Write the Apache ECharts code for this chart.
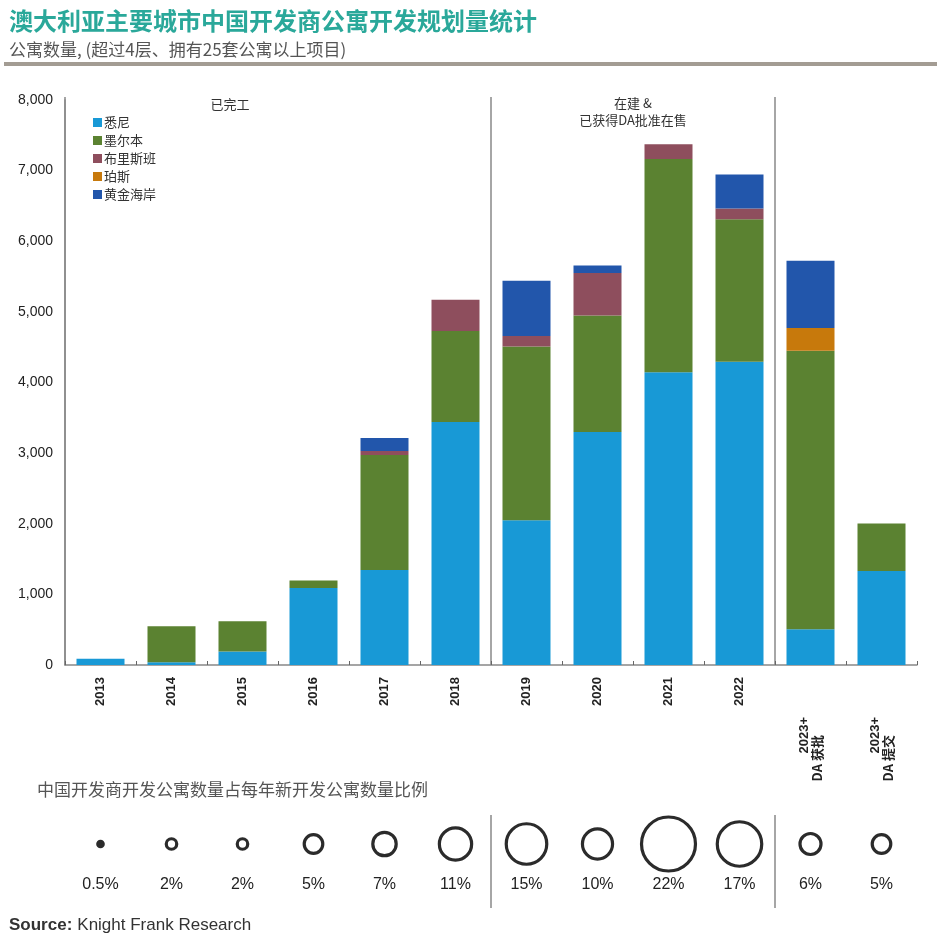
<!DOCTYPE html>
<html>
<head>
<meta charset="utf-8">
<script src="https://cdn.jsdelivr.net/npm/echarts@6/dist/echarts.min.js"></script>
<style>
html,body{margin:0;padding:0;background:#fff;}
#chart{width:941px;height:941px;}
</style>
</head>
<body>
<div id="chart"></div>
<script>
// ---------- data ----------
var categories = ['2013','2014','2015','2016','2017','2018','2019','2020','2021','2022','2023+\nDA 获批','2023+\nDA 提交'];
var sydney    = [90, 40, 190, 1090, 1345, 3440, 2050, 3300, 4145, 4295, 505, 1330];
var melbourne = [0, 510, 430, 105, 1630, 1290, 2460, 1650, 3020, 2015, 3945, 675];
var brisbane  = [0, 0, 0, 0, 55, 440, 150, 600, 210, 155, 0, 0];
var perth     = [0, 0, 0, 0, 0, 0, 0, 0, 0, 0, 320, 0];
var goldCoast = [0, 0, 0, 0, 185, 0, 780, 105, 0, 480, 955, 0];
var sharePct  = [0.5, 2, 2, 5, 7, 11, 15, 10, 22, 17, 6, 5];
var yTicks    = [0, 1000, 2000, 3000, 4000, 5000, 6000, 7000, 8000];
var seriesNames = ['悉尼','墨尔本','布里斯班','珀斯','黄金海岸'];

var colors = ['#1899d6', '#5b8231', '#8e4e5d', '#c7790c', '#2256ab'];
var CJK = '"Noto Sans CJK SC", "Noto Sans", sans-serif';
var SANS = '"Liberation Sans", Arial, sans-serif';
var NARROW = '"Liberation Sans Narrow", "Liberation Sans", Arial, sans-serif';

var chart = echarts.init(document.getElementById('chart'), null, {renderer: 'canvas'});

function circleSize(p) { return 3 + 4.3 * Math.pow(p, 0.8); }

var barSeries = [sydney, melbourne, brisbane, perth, goldCoast].map(function (d, i) {
  return {
    name: seriesNames[i], type: 'bar', stack: 'total',
    xAxisIndex: 0, yAxisIndex: 0,
    barWidth: 48,
    itemStyle: {color: colors[i]},
    data: d
  };
});

var option = {
  animation: false,
  backgroundColor: '#fff',
  title: [
    {text: '澳大利亚主要城市中国开发商公寓开发规划量统计', left: 4, top: 4,
     textStyle: {color: '#2aa89a', fontSize: 24, fontWeight: 'bold', fontFamily: CJK}},
    {text: '公寓数量, (超过4层、拥有25套公寓以上项目)', left: 4, top: 36,
     textStyle: {color: '#555', fontSize: 17, fontWeight: 'normal', fontFamily: CJK}},
    {text: '中国开发商开发公寓数量占每年新开发公寓数量比例', left: 32, top: 776,
     textStyle: {color: '#555', fontSize: 17, fontWeight: 'normal', fontFamily: CJK}},
    {text: '{b|Source:} {n|Knight Frank Research}', left: 4, top: 911,
     textStyle: {fontWeight: 'normal', rich: {
       b: {fontSize: 17, fontWeight: 'bold', color: '#333', fontFamily: SANS},
       n: {fontSize: 17, fontWeight: 'normal', color: '#333', fontFamily: SANS}}}}
  ],
  legend: {
    orient: 'vertical', left: 88, top: 111,
    itemWidth: 9, itemHeight: 9, itemGap: 5, icon: 'rect',
    textStyle: {fontSize: 13, color: '#333', fontFamily: CJK, padding: [0,0,0,-3]},
    data: seriesNames
  },
  grid: [
    {left: 65, right: 24, top: 100, bottom: 276},
    {left: 65, right: 24, top: 820, height: 48}
  ],
  xAxis: [
    {type: 'category', gridIndex: 0, data: categories,
     axisLine: {lineStyle: {color: '#888', width: 1.5}},
     axisTick: {show: true, inside: true, length: 4, lineStyle: {color: '#666'}},
     axisLabel: {rotate: 90, margin: 12, interval: 0, color: '#222', fontSize: 13,
       fontWeight: 'bold', fontFamily: SANS,
       formatter: function (v) {
         if (v.indexOf('\n') >= 0) {
           var parts = v.split('\n');
           return '{a|' + parts[0] + '}\n{b|' + parts[1] + '}';
         }
         return v;
       },
       rich: {
         a: {fontSize: 13, fontWeight: 'bold', fontFamily: SANS, color: '#222', padding: [0, 40, 0, 0]},
         b: {fontSize: 13, fontWeight: 'bold', fontFamily: CJK, color: '#222', padding: [0, 58, 0, 0]}
       }}},
    {type: 'category', gridIndex: 1, data: categories,
     axisLine: {show: false}, axisTick: {show: false},
     axisLabel: {margin: 9, interval: 0, color: '#222', fontSize: 16, fontFamily: NARROW,
       formatter: function (v, i) { return sharePct[i] + '%'; }}}
  ],
  yAxis: [
    {type: 'value', gridIndex: 0, min: 0, max: 8000, interval: 1000,
     splitLine: {show: false},
     axisLine: {show: true, lineStyle: {color: '#888', width: 1.5}},
     axisTick: {show: false},
     axisLabel: {margin: 12, color: '#222', fontSize: 14, fontFamily: SANS,
       customValues: yTicks,
       formatter: function (v) { return v.toLocaleString('en-US'); }}},
    {type: 'value', gridIndex: 1, min: -1, max: 1, show: false}
  ],
  series: barSeries.concat([{
    type: 'scatter', xAxisIndex: 1, yAxisIndex: 1,
    data: sharePct.map(function (p, i) { return [i, 0, p]; }),
    symbol: 'circle',
    symbolSize: function (val) { return circleSize(val[2]); },
    itemStyle: {
      color: function (p) { return p.value[2] < 1 ? '#2b2b2b' : '#fff'; },
      borderColor: '#2b2b2b', borderWidth: 3.2, opacity: 1
    },
    silent: true
  }])
};

chart.setOption(option);

// separators between the project phases, placed at category boundaries
function boundaryX(i) {
  var a = chart.convertToPixel({xAxisIndex: 0}, categories[i]);
  var b = chart.convertToPixel({xAxisIndex: 0}, categories[i + 1]);
  return (a + b) / 2;
}
var yTop = chart.convertToPixel({yAxisIndex: 0}, 8000) - 3;
var yBot = chart.convertToPixel({yAxisIndex: 0}, 0);
var x1 = boundaryX(5), x2 = boundaryX(9);
var g = [];
[x1, x2].forEach(function (x) {
  g.push({type: 'line', shape: {x1: x, y1: yTop, x2: x, y2: yBot}, style: {stroke: '#888', lineWidth: 1.5}, silent: true});
  g.push({type: 'line', shape: {x1: x, y1: 815, x2: x, y2: 908}, style: {stroke: '#888', lineWidth: 1.5}, silent: true});
});
g.push({type: 'line', shape: {x1: 65, y1: yTop, x2: 65, y2: yBot}, style: {stroke: '#888', lineWidth: 1.5}, silent: true});
g.push({type: 'rect', shape: {x: 4, y: 62, width: 933, height: 4}, style: {fill: '#a39c93'}, silent: true});
var xb = (x1 + x2) / 2;
g.push({type: 'text', x: 230, y: 104, style: {text: '已完工', align: 'center', verticalAlign: 'middle', fontSize: 13, fill: '#333', fontFamily: CJK}, silent: true});
g.push({type: 'text', x: xb, y: 112, style: {text: '在建 &\n已获得DA批准在售', align: 'center', verticalAlign: 'middle', fontSize: 13, lineHeight: 17, fill: '#333', fontFamily: CJK}, silent: true});
chart.setOption({graphic: g});
</script>
</body>
</html>
